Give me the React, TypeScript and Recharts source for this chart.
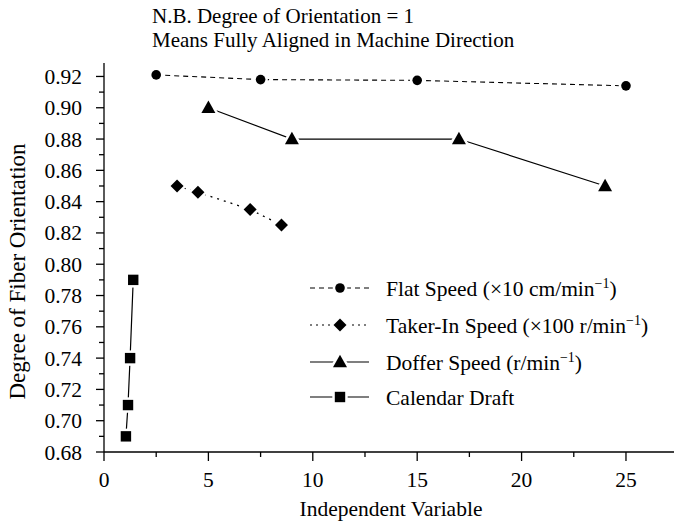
import React from 'react';
import { LineChart, Line, XAxis, YAxis, Label } from 'recharts';

// ---------- data ----------
const flatSpeedX = [2.5, 7.5, 15, 25];
const flatSpeedY = [0.921, 0.918, 0.9175, 0.914];

const takerInX = [3.5, 4.5, 7, 8.5];
const takerInY = [0.85, 0.846, 0.835, 0.825];

const dofferX = [5, 9, 17, 24];
const dofferY = [0.9, 0.88, 0.88, 0.85];

const calendarX = [1.05, 1.15, 1.25, 1.4];
const calendarY = [0.69, 0.71, 0.74, 0.79];

const xTicks = [0, 2.5, 5, 7.5, 10, 12.5, 15, 17.5, 20, 22.5, 25];
const xTickLabels = ['0', '5', '10', '15', '20', '25'];
const yTicks = [0.68, 0.69, 0.7, 0.71, 0.72, 0.73, 0.74, 0.75, 0.76, 0.77, 0.78, 0.79, 0.8, 0.81, 0.82, 0.83, 0.84, 0.85, 0.86, 0.87, 0.88, 0.89, 0.9, 0.91, 0.92];
const yTickLabels = ['0.68', '0.70', '0.72', '0.74', '0.76', '0.78', '0.80', '0.82', '0.84', '0.86', '0.88', '0.90', '0.92'];

const titleLines = ['N.B. Degree of Orientation = 1', 'Means Fully Aligned in Machine Direction'];
const xAxisTitle = 'Independent Variable';
const yAxisTitle = 'Degree of Fiber Orientation';

const legendNames = [
  { main: 'Flat Speed (\u00d710 cm/min', sup: '\u22121', tail: ')' },
  { main: 'Taker-In Speed (\u00d7100 r/min', sup: '\u22121', tail: ')' },
  { main: 'Doffer Speed (r/min', sup: '\u22121', tail: ')' },
  { main: 'Calendar Draft', sup: '', tail: '' },
];

const zip = (xs: number[], ys: number[]) => xs.map((x, i) => ({ x, y: ys[i] }));
const flatData = zip(flatSpeedX, flatSpeedY);
const takerData = zip(takerInX, takerInY);
const dofferData = zip(dofferX, dofferY);
const calendarData = zip(calendarX, calendarY);

// ---------- layout / style ----------
const W = 674;
const H = 521;
const AXIS_X = 104;
const AXIS_Y = 452;
const FONT = 'Liberation Serif, Times New Roman, serif';
const FS = 21.5;

type Kind = 'circle' | 'diamond' | 'triangle' | 'square';

const Marker = ({ cx, cy, kind }: { cx: number; cy: number; kind: Kind }) => {
  const common = { fill: '#000', stroke: '#fff', strokeWidth: 5, paintOrder: 'stroke' as const };
  if (kind === 'circle') return <circle cx={cx} cy={cy} r={4.8} {...common} />;
  if (kind === 'diamond') {
    const r = 6.5;
    return <path d={`M${cx},${cy - r}L${cx + r},${cy}L${cx},${cy + r}L${cx - r},${cy}Z`} {...common} />;
  }
  if (kind === 'triangle') {
    const s = 7;
    return <path d={`M${cx},${cy - s * 1.05}L${cx + s},${cy + s * 0.75}L${cx - s},${cy + s * 0.75}Z`} {...common} />;
  }
  const h = 5.2;
  return <rect x={cx - h} y={cy - h} width={2 * h} height={2 * h} {...common} />;
};

const dotFor = (kind: Kind) => (props: any) => {
  const { cx, cy, index } = props;
  if (cx == null || cy == null) return <g key={`${kind}-${index}`} />;
  return <Marker key={`${kind}-${index}`} cx={cx} cy={cy} kind={kind} />;
};

const XTick = (props: any) => {
  const { x, payload } = props;
  const v = payload.value as number;
  const major = Math.abs(v / 5 - Math.round(v / 5)) < 1e-6;
  const lbl = String(Math.round(v));
  return (
    <g>
      <line x1={x} x2={x} y1={AXIS_Y} y2={AXIS_Y + (major ? 9 : 5)} stroke="#000" strokeWidth={1.3} />
      {major && xTickLabels.includes(lbl) ? (
        <text x={x} y={AXIS_Y + 35} textAnchor="middle" fontFamily={FONT} fontSize={FS} fill="#000">
          {lbl}
        </text>
      ) : null}
    </g>
  );
};

const YTick = (props: any) => {
  const { y, payload } = props;
  const v = payload.value as number;
  const idx = Math.round((v - 0.68) * 100);
  const major = idx % 2 === 0;
  const lbl = v.toFixed(2);
  return (
    <g>
      <line x1={AXIS_X - (major ? 8 : 5)} x2={AXIS_X} y1={y} y2={y} stroke="#000" strokeWidth={1.3} />
      {major && yTickLabels.includes(lbl) ? (
        <text x={AXIS_X - 22} y={y} dy="0.35em" textAnchor="end" fontFamily={FONT} fontSize={FS} fill="#000">
          {lbl}
        </text>
      ) : null}
    </g>
  );
};

const legendKinds: Kind[] = ['circle', 'diamond', 'triangle', 'square'];
const legendDash = ['5 4', '2 4', undefined, undefined];
const legendRowsY = [288, 325, 362, 397];

const LegendBlock = () => (
  <g>
    {legendNames.map((n, i) => {
      const y = legendRowsY[i];
      return (
        <g key={i}>
          <line x1={310} x2={369} y1={y} y2={y} stroke="#000" strokeWidth={1.2} strokeDasharray={legendDash[i]} />
          <Marker cx={340} cy={y} kind={legendKinds[i]} />
          <text x={386} y={y} dy="0.35em" fontFamily={FONT} fontSize={FS} fill="#000">
            {n.main}
            {n.sup ? (
              <tspan dy={-8} fontSize={14}>
                {n.sup}
              </tspan>
            ) : null}
            {n.tail ? <tspan dy={8}>{n.tail}</tspan> : null}
          </text>
        </g>
      );
    })}
  </g>
);

const TitleBlock = () => (
  <g>
    {titleLines.map((t, i) => (
      <text key={i} x={152} y={23 + i * 24} fontFamily={FONT} fontSize={21} fill="#000">
        {t}
      </text>
    ))}
  </g>
);

export default function App() {
  return (
    <div style={{ position: 'absolute', left: 0, top: 0, width: W, height: H, background: '#fff' }}>
      <LineChart width={W} height={H} margin={{ top: 63, right: 0, bottom: 0, left: 0 }}>
        <XAxis
          type="number"
          dataKey="x"
          domain={[0, 27.3]}
          ticks={xTicks}
          tick={<XTick />}
          tickLine={false}
          axisLine={{ stroke: '#000', strokeWidth: 1.3 }}
          height={69}
          allowDataOverflow
          interval={0}
        >
          <Label
            content={(p: any) => {
              const vb = p.viewBox || {};
              return (
                <text
                  x={vb.x + vb.width / 2 + 2}
                  y={508}
                  dy="0.35em"
                  textAnchor="middle"
                  fontFamily={FONT}
                  fontSize={FS}
                  fill="#000"
                >
                  {xAxisTitle}
                </text>
              );
            }}
          />
        </XAxis>
        <YAxis
          type="number"
          dataKey="y"
          domain={[0.68, 0.9286]}
          ticks={yTicks}
          tick={<YTick />}
          tickLine={false}
          axisLine={{ stroke: '#000', strokeWidth: 1.3 }}
          width={104}
          allowDataOverflow
          interval={0}
        >
          <Label
            content={(p: any) => {
              const vb = p.viewBox || {};
              const cy = vb.y + vb.height / 2 + 14;
              return (
                <text
                  x={17}
                  y={cy}
                  dy="0.35em"
                  transform={`rotate(-90 17 ${cy})`}
                  textAnchor="middle"
                  fontFamily={FONT}
                  fontSize={23}
                  fill="#000"
                >
                  {yAxisTitle}
                </text>
              );
            }}
          />
        </YAxis>
        <Line
          data={flatData}
          dataKey="y"
          stroke="#000"
          strokeWidth={1.1}
          strokeDasharray="5 4"
          dot={dotFor('circle')}
          activeDot={false}
          isAnimationActive={false}
          type="linear"
        />
        <Line
          data={takerData}
          dataKey="y"
          stroke="#000"
          strokeWidth={1.3}
          strokeDasharray="2 5"
          dot={dotFor('diamond')}
          activeDot={false}
          isAnimationActive={false}
          type="linear"
        />
        <Line
          data={dofferData}
          dataKey="y"
          stroke="#000"
          strokeWidth={1.2}
          dot={dotFor('triangle')}
          activeDot={false}
          isAnimationActive={false}
          type="linear"
        />
        <Line
          data={calendarData}
          dataKey="y"
          stroke="#000"
          strokeWidth={1.2}
          dot={dotFor('square')}
          activeDot={false}
          isAnimationActive={false}
          type="linear"
        />
        <TitleBlock />
        <LegendBlock />
      </LineChart>
    </div>
  );
}
